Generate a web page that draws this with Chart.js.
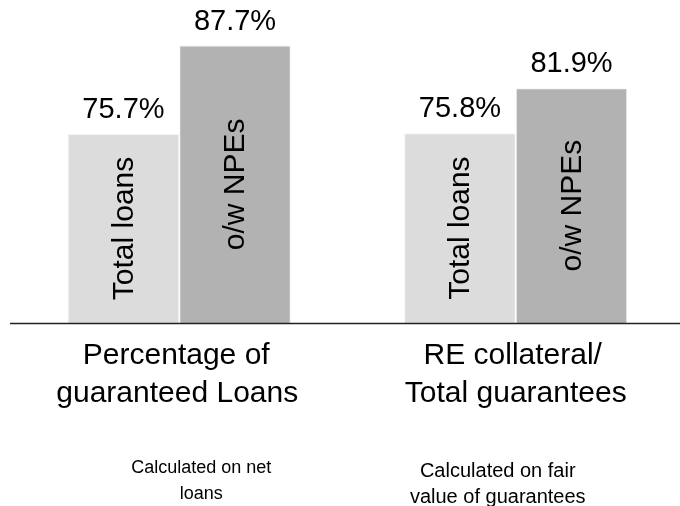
<!DOCTYPE html>
<html>
<head>
<meta charset="utf-8">
<script src="https://cdn.jsdelivr.net/npm/chart.js@4/dist/chart.umd.min.js"></script>
<style>
  html, body { margin: 0; padding: 0; overflow: hidden; background: #fff; }
  #wrap { width: 684px; height: 506px; }
</style>
</head>
<body>
<div id="wrap"><canvas id="c"></canvas></div>
<script>
/* ============ data ============ */
const categories = [['Percentage of', 'guaranteed Loans'], ['RE collateral/', 'Total guarantees']];
const footnotes = [['Calculated on net', 'loans'], ['Calculated on fair', 'value of guarantees']];
const seriesNames = ['Total loans', 'o/w NPEs'];
const totalLoans = [75.7, 75.8];
const owNPEs = [87.7, 81.9];

const FONT = "'Liberation Sans', Arial, sans-serif";

const labelsPlugin = {
  id: 'labels',
  afterDatasetsDraw(chart) {
    const ctx = chart.ctx;
    const area = chart.chartArea;
    const xs = chart.scales.x;
    ctx.save();

    // baseline
    ctx.strokeStyle = '#222';
    ctx.lineWidth = 1.5;
    ctx.beginPath();
    ctx.moveTo(area.left - 1, area.bottom + 0.5);
    ctx.lineTo(area.right, area.bottom + 0.5);
    ctx.stroke();

    ctx.fillStyle = '#000';
    chart.data.datasets.forEach((ds, di) => {
      chart.getDatasetMeta(di).data.forEach((bar, i) => {
        // value above bar
        ctx.font = '29px ' + FONT;
        ctx.textAlign = 'center';
        ctx.textBaseline = 'middle';
        ctx.fillText(ds.data[i].toFixed(1) + '%', bar.x, bar.y - 24);
        // series name inside bar, rotated
        const bottom = Math.min(bar.base, area.bottom);
        ctx.save();
        ctx.translate(bar.x + 1, (bar.y + bottom) / 2);
        ctx.rotate(-Math.PI / 2);
        ctx.font = '30px ' + FONT;
        ctx.fillText(ds.label, 0, 0);
        ctx.restore();
      });
    });

    // category labels + footnotes
    const catDx = [[-3, -2], [-3, 0]];
    const footDx = [22, -18];
    const footDy = [0, 3];
    const footSize = [18, 20];
    categories.forEach((lines, i) => {
      const cx = xs.getPixelForValue(i);
      ctx.font = '30px ' + FONT;
      lines.forEach((t, k) => ctx.fillText(t, cx + catDx[i][k], area.bottom + 33 + k * 38));
      ctx.font = footSize[i] + 'px ' + FONT;
      footnotes[i].forEach((t, k) => ctx.fillText(t, cx + footDx[i], area.bottom + 145 + footDy[i] + k * 26));
    });
    ctx.restore();
  }
};

new Chart(document.getElementById('c'), {
  type: 'bar',
  data: {
    labels: categories,
    datasets: [
      { label: seriesNames[0], data: totalLoans, backgroundColor: '#dcdcdc', borderColor: '#f4f4f4', borderWidth: 1 },
      { label: seriesNames[1], data: owNPEs, backgroundColor: '#b2b2b2', borderColor: '#f4f4f4', borderWidth: 1 }
    ]
  },
  options: {
    responsive: true,
    maintainAspectRatio: false,
    animation: false,
    layout: { padding: { left: 11, right: 0, top: 0, bottom: 183 } },
    datasets: { bar: { categoryPercentage: 0.663, barPercentage: 1 } },
    plugins: { legend: { display: false }, tooltip: { enabled: false } },
    scales: {
      x: { display: false },
      y: { display: false, min: 50, max: 93.9 }
    }
  },
  plugins: [labelsPlugin]
});
</script>
</body>
</html>
